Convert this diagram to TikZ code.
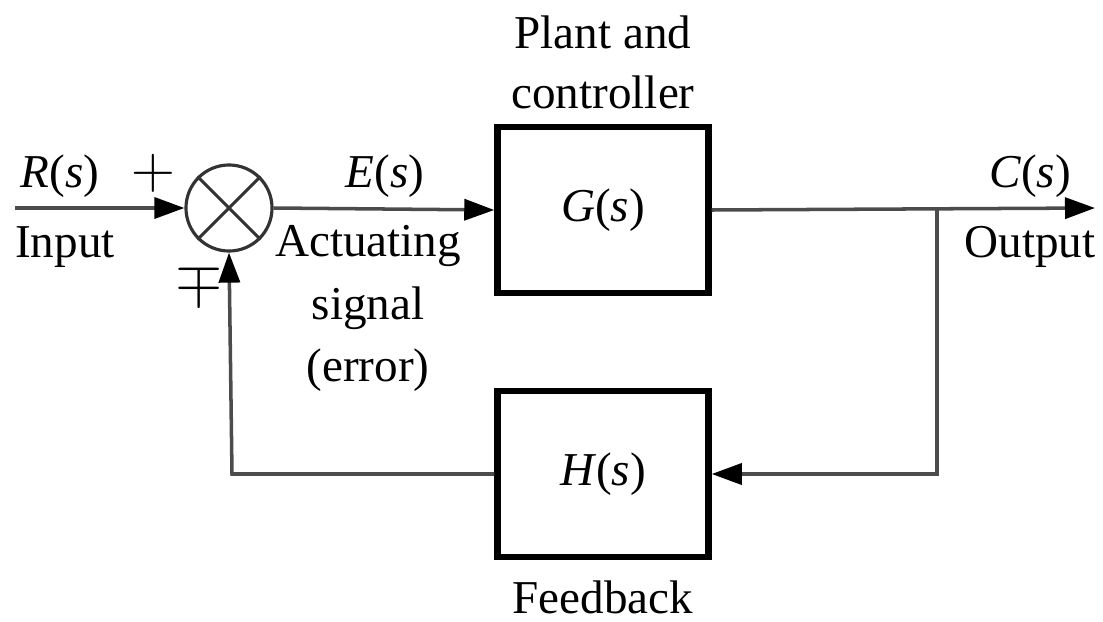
\documentclass[tikz,border=0pt]{standalone}
\usepackage{fontspec}
\setmainfont{Liberation Serif}
\usetikzlibrary{arrows.meta}
\begin{document}
\begin{tikzpicture}[x=0.01cm,y=-0.01cm,
  every node/.style={font=\fontsize{13.4}{16}\selectfont, inner sep=0pt},
  sig/.style={draw=black!70, line width=1pt},
  tip/.style={-{Triangle[length=0.3cm,width=0.21cm,color=black,fill=black]}},
  block/.style={draw=black, line width=1.8pt, minimum width=2.11cm, minimum height=1.66cm},
  sumj/.style={draw=black!80, line width=0.9pt, circle, minimum size=0.86cm},
  sign/.style={font=\fontsize{17}{18}\selectfont},
  lbl/.style={align=center}]
\useasboundingbox (0,0) rectangle (1103,621);

% blocks and summing junction
\node[block] (G) at (603,210) {\textit{G}(\textit{s})};
\node[block] (H) at (603,474) {\textit{H}(\textit{s})};
\node[sumj] (S) at (229,208) {};
\draw[black!80, line width=0.9pt] (S.north west) -- (S.south east);
\draw[black!80, line width=0.9pt] (S.north east) -- (S.south west);

% signal points
\coordinate (in) at (15,208);
\coordinate (out) at (1095,208);
\coordinate (br) at (937,208);
\coordinate (brd) at (937,474);
\coordinate (fbl) at (232,474);

% connectors
\draw[sig,tip] (in) -- (S.west);
\draw[sig,tip] (S.east) -- (G.west);
\draw[sig,tip] (G.east) -- (out);
\draw[sig,tip] (br) -- (brd) -- (H.east);
\draw[sig,tip] (H.west) -- (fbl) -- (S.south);

% labels
\node (r) at (60,176) {\textit{R}(\textit{s})};
\node (inp) at (65,247) {Input};
\node[sign] (pl) at (153,173) {$+$};
\node[sign] (mi) at (199,283) {$\mp$};
\node (e) at (385,176) {\textit{E}(\textit{s})};
\node[lbl] (act) at (368,246) {Actuating};
\node[lbl] (sg) at (368,308) {signal};
\node[lbl] (er) at (368,370) {(error)};
\node (p1) at (603,32) {Plant and};
\node (p2) at (603,92) {controller};
\node (c) at (1030,176) {\textit{C}(\textit{s})};
\node (o) at (1030,247) {Output};
\node (fb) at (603,597) {Feedback};
\end{tikzpicture}
\end{document}
